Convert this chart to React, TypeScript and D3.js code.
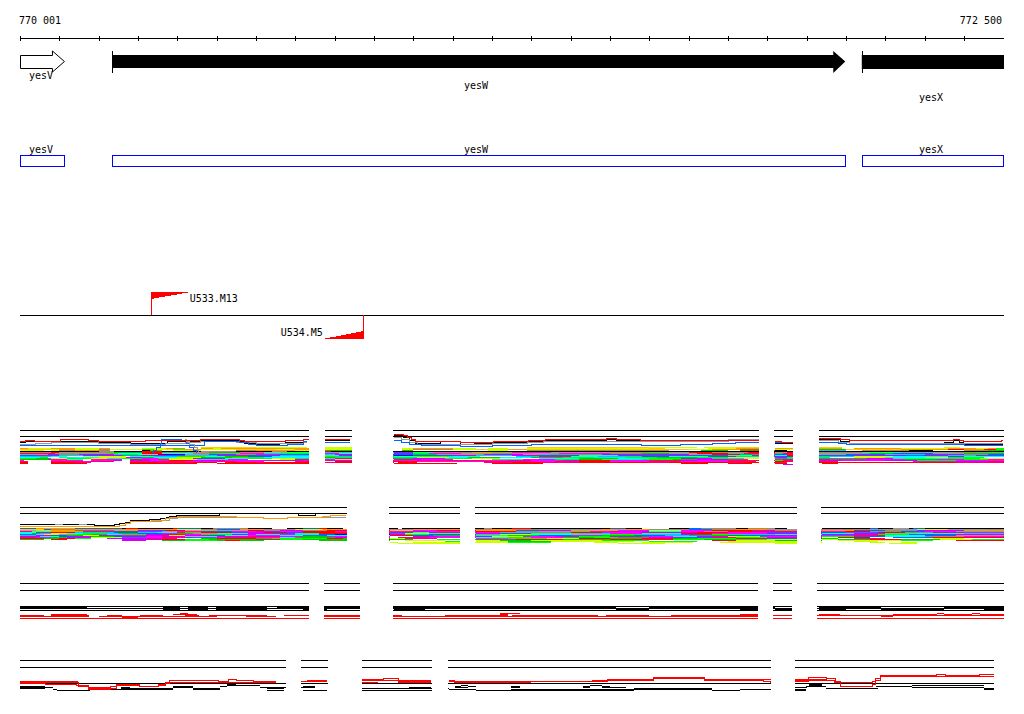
// App.tsx
// Genome browser view: ruler, genes, primers and four stacked read-alignment tracks.
import * as d3 from "d3";
import React from "react";

// ── Ruler and annotations (base pairs) ─────────────────────────────────────
const START = 770001;
const END = 772500;
const RULER_TICKS = d3.range(START, END + 1, 100);
const GENES: [string, number, number, boolean][] = [
  ["yesV", 770001, 770114, true],
  ["yesW", 770236, 772099, true],
  ["yesX", 772141, 772500, false],
];
const GENE_LABELS: [string, number][] = [
  ["yesV", 79],
  ["yesW", 89],
  ["yesX", 101],
];
const PRIMERS: [string, number, number][] = [
  ["U533.M13", 770334, 770435],
  ["U534.M5", 770874, 770771],
];

// ── Alignment tracks ───────────────────────────────────────────────────────
// Row tokens are colour letter + start position, in tens of bp from START.
// Reads are [colour, [position, depth], ...]; the last pair only ends the read.
const COLORS: Record<string, string> = {
  r: "#ff0000", k: "#000000", b: "#0000ff", a: "#0066ff", g: "#999999", o: "#ff9900",
  y: "#ccff00", u: "#ffcc00", l: "#00ff00", c: "#00ffff", m: "#ff00ff", v: "#cc00ff",
  p: "#ff0066", n: "#aa8866", e: "#00cc00", s: "#00ff99", d: "#997700", t: "#00ccff",
};

const SEGMENTS_A = [[770001, 770733], [770776, 770842], [770949, 771877], [771918, 771963], [772032, 772500]];
const SEGMENTS_B = [[770001, 770830], [770939, 771117], [771158, 771974], [772037, 772500]];
const SEGMENTS_C = [[770001, 770732], [770773, 770861], [770949, 771874], [771915, 771961], [772027, 772500]];
const SEGMENTS_D = [[770001, 770675], [770716, 770782], [770871, 771046], [771090, 771908], [771972, 772475]];

const ROWS_A: [number, string][] = [
  [0, "k0"],
  [6, "k0"],
  [17, ".0 u46 y60 .73 y77 .85 u129 y160 .172 y174 u182 .190 u203 .209 y235 .239"],
  [18, "o0 y2 o8 y14 o20 .23 y31 o37 l39 .42 o46 y49 o51 y77 .85 y97 o100 y110 .116 y119 .124 y129 u160 .164 y175 o182 .188 o192 .197 o203 .209 o212 y224 o236 y243 o246 l248"],
  [19, "u0 y8 o10 y14 n20 y23 l31 y34 o39 y46 u55 y65 o70 y77 .85 y97 n100 y110 u116 y119 o124 u129 y170 o176 d183 .190 y192 .197 e203 u210 o224 r236 o240 r245 l248"],
  [20, "y0 .6 y8 n10 o14 n20 .23 k31 l33 .36 y39 .46 n55 o60 y70 e77 .85 e97 .100 .110 y119 .124 n129 .165 e173 .180 d183 k192 .195 t203 .210 n214 k226 .232 n240 e246"],
  [21, "k0 n20 k24 r31 k36 n46 k55 n64 k68 r77 k79 k97 k129 k203"],
  [22, "n0 r8 g10 n14 e24 r31 n36 g42 e48 n56 c62 s66 t77 g80 a95 s100 n105 o115 g120 m125 g135 n150 g160 r170 n176 r185 g192 r195 n203 s214 g224 n238 g243"],
  [23, "p0 n9 g14 l22 c25 r31 c36 n44 g50 m56 g62 l68 m77 c81 v95 l100 m104 g112 n120 g130 m137 n150 e158 g165 r172 g180 p184 n192 p194 g203 e216 a222 g232 e240"],
  [24, "g0 a7 n10 v15 t24 c30 b35 g42 a48 n55 m60 a66 g77 v80 a95 e100 g106 v118 g128 n135 v148 a160 g170 r176 e183 a192 p195 g203 a210 t220 v230 n240 a246"],
  [25, "a0 v4 t10 a16 v22 e26 p31 a37 t42 v50 a58 t66 c77 a81 b95 a100 v110 t116 v125 a132 c142 a152 v160 a171 c180 v186 c192 r195 a203 v212 a225 t236 a243"],
  [26, "t0 c8 .12 y16 .27 c28 t34 l40 c47 e52 a58 c64 l77 t80 c95 s101 c110 .117 t126 v132 c140 t147 a158 c165 a175 t182 a188 a192 p196 t203 y212 c222 a236 c240"],
  [27, "c0 l5 .7 s10 c14 y20 v27 e31 c34 y40 e46 l54 c62 e77 l80 l95 y101 c109 e114 c122 e130 l138 s146 l154 e162 l172 y180 v192 l195 l203 .206 y212 c220 y230 l236 .245"],
  [28, "l0 e4 y8 l12 y18 s22 l26 m31 l35 y38 v44 c52 l58 y64 l70 s77 v80 e95 v100 l108 y115 .122 c132 e142 c152 l160 v168 l176 y184 e192 l195 e203 v215 s222 l236 y244"],
  [29, "e0 v7 m8 c12 .16 m18 .26 v28 m33 y38 s45 m53 .58 y66 v70 m77 y80 v95 m102 .110 s120 m128 l136 e142 s148 l158 e166 v172 m180 .185 m192 v194 v203 m206 e225 m233 l240 m246"],
  [30, "m0 .1 m8 .16 m18 v24 .26 p28 m33 r38 v44 m52 v62 v70 m72 p77 v79 m95 p101 m118 v124 m130 v138 r142 m150 p160 v168 m172 p180 r187 l192 p194 v203 m209 v220 l228 m238"],
  [31, "p0 .2 p8 m16 p18 .24 v28 p35 m42 p50 m55 .62 p70 r73 .77 r80 r95 m101 p118 m130 p136 r142 m150 p160 m168 p180 .187 r192 p195 p203 .208 m227 v238 p246"],
  [32, "r0 .2 r8 p14 .18 r28 p35 r44 .50 r52 p60 r62 r73 .77 p77 r80 .95 r96 .101 p118 r125 p133 r142 r150 p160 r165 r172 p180 r184 p192 .195 r203 r227 p238 p246"],
  [33, "r0 .2 r8 .17 r28 r44 .45 r50 r62 r73 .77 r95 .111 r120 .133 r168 .175 r180 .186 r192 .195 r204 .208"],
  [34, ".0 v194 .197"],
];
const READS_A: [string, ...number[][]][] = [
  ["k", [0, 12], [1.5, 11], [20, 12], [28, 13], [37.5, 11], [45.8, 10], [55.8, 11], [57, 13], [60, 14], [66, 13], [67.5, 12], [72, 11], [73, 11]],
  ["k", [77, 10], [84, 10]],
  ["k", [95, 5], [97.5, 7], [99, 10], [100.5, 13], [107, 11], [112, 14], [115.5, 13], [120.4, 12], [129.3, 11], [133.5, 10], [149.2, 9], [151.6, 10], [188, 10]],
  ["k", [192, 13], [197, 13]],
  ["k", [203, 9], [208.6, 11], [210.9, 14], [235, 12], [237.4, 10], [238.8, 12], [239.9, 14], [250, 14]],
  ["g", [0, 14], [4, 13], [8, 12], [20, 13], [28, 14], [37, 13], [42, 12], [46, 11], [55, 12], [60, 13], [72, 12], [73, 12]],
  ["g", [95, 7], [97, 9], [99, 12], [101, 14], [120, 13], [129, 12], [133, 11], [157, 11], [180, 9], [188, 9]],
  ["g", [203, 10], [208, 12], [211, 13], [250, 13]],
  ["a", [0, 15], [36, 15], [47, 11], [55.8, 12], [58, 14], [60, 15], [68, 14], [72, 11], [73, 11]],
  ["a", [77, 12], [84, 12]],
  ["a", [95, 10], [97, 12], [99, 14], [102, 15], [112, 16], [120, 15], [130, 14], [158, 15], [168, 14], [176, 13], [182, 12], [188, 12]],
  ["a", [192, 12], [197, 12]],
  ["a", [203, 12], [208, 13], [210, 14], [240, 15], [250, 15]],
  ["a", [33.5, 22], [34, 20], [34.7, 17], [35.6, 13], [36, 9], [41, 10], [42.4, 13], [43.2, 17], [44, 20], [44.8, 22]],
  ["a", [36, 10], [41, 9]],
  ["g", [42, 9], [42.4, 11], [43.2, 14], [44.4, 17], [45, 20], [45.5, 22]],
  ["r", [0, 11], [1.5, 10], [3.8, 11], [10.3, 9], [17.5, 10], [20, 11], [32, 10], [45.8, 9], [55.8, 10], [57, 11], [67.5, 10], [72, 9], [77, 9], [84, 9]],
  ["r", [95, 4], [97.5, 5], [98.5, 7], [99.5, 9], [100.5, 11], [112, 12], [120.4, 11], [129.3, 10], [133.5, 9], [149.2, 8], [151.6, 9], [157.7, 10], [188, 10]],
  ["r", [192, 11], [193.5, 12], [197, 12]],
  ["r", [203.2, 8], [208.6, 9], [210.9, 10], [237.4, 9], [238.8, 10], [239.9, 11], [249.5, 10], [250, 10]],
];

const ROWS_B: [number, string][] = [
  [0, "k0"],
  [6, "k0"],
  [21, "a0 o4 a14 k26 r27 k30 r39 a40 k46 n49 k58 .64 k68 a72 r76 k78 .82 k84 k94 .96 k97 k116 n118 k120 r125 k130 a150 k154 .158 k165 a170 n173 k182 n185 k192 .195 k204 a216 k218 g222 k226 a227 k230"],
  [22, "u0 a6 n8 o14 y40 n46 a50 o56 n62 y70 o77 n84 n94 o100 n116 o120 n125 g132 o148 n160 a170 n176 o182 g190 n204 g216 y228 g236 n246"],
  [23, "o0 u4 o8 d14 o24 a30 r37 o42 g50 r58 n62 v66 n72 r78 u94 m100 r106 o116 a126 v132 o140 m152 y160 m168 r176 v186 n192 o204 a212 n220 v228 o240"],
  [24, "v0 c3 o8 v16 a24 m30 g36 m40 a46 m54 v60 m66 r72 m80 m94 v100 m104 r116 n126 g132 m145 v150 c160 m168 n174 r180 p190 m204 r210 n216 a224 m230 g238"],
  [25, "c0 a4 r8 t14 a24 t30 c35 p40 n42 r46 v54 r62 v68 r72 p80 a94 c100 p104 m116 g122 n130 r140 m148 p158 v165 r172 m180 v190 a204 m210 r218 n225 p232 m240"],
  [26, "c0 e3 n5 y8 c12 l16 t22 e25 a30 m36 e40 g44 c50 v58 a64 s70 r76 m94 y98 c104 v116 a122 s130 t142 m150 c158 r168 m176 a190 c204 a212 s220 c228 t240"],
  [27, "a0 c4 y6 g10 l14 e18 c22 l26 v32 p36 m42 l46 v54 c60 m66 s70 a76 b80 v94 l98 a104 g116 y122 c130 s140 l150 t158 v168 l176 t184 c192 a204 v212 l218 a226 v238"],
  [28, "t0 v4 a8 e12 y16 v20 m26 v32 y38 v42 a48 c52 m58 c66 a72 c78 r94 a100 e105 s116 e124 a132 m140 e148 a156 t164 e170 a180 v190 m204 p212 c220 a230 g238"],
  [29, "v0 c5 a10 v14 e18 a24 m32 p36 c42 v50 p58 m66 e72 m78 .94 v100 m106 v116 y120 m128 v136 l142 v150 m158 c166 v172 y180 m188 l204 a212 c220 n230 m240"],
  [30, "p0 m4 e8 v12 y18 m26 v36 m44 p52 m60 c66 e70 v80 .94 p96 m104 c116 l124 m130 e138 l146 e152 v160 a168 p176 l182 v190 .204 r208 .216 a222 r232"],
  [31, "r0 e6 r10 l14 .18 v22 p32 .40 e46 r50 e60 l64 r78 e82 y94 p98 .106 e116 l124 y134 r142 e150 r158 e166 l172 p182 a190 e204 .208 p212 .220 y232 .240"],
  [32, "e0 .6 r8 .12 .20 v26 r36 l42 e48 p60 l66 e72 r84 e94 .100 l106 m116 r126 e138 r150 p158 l166 e174 l182 y190 y204 e208 r216 e224 y234 l242"],
  [33, ".0 v26 .32 e36 l42 e50 r52 e56 .62 e76 .94 y98 .108 y116 e122 y130 l148 .160 r176 y182 e192 .204 y208 l224 .232 r238"],
  [34, ".0 l108 .112 y116 e124 y135 y146 .156 l160 .172 y180 .204 y212 .218"],
  [35, ".0 y94 .96 y100 l124 .135 y146 .152 y158 .171 y178 .204 y216 .220 y224 .228"],
  [36, ".0 y96 .112 y152 .164 y192 .198 y221 .228"],
];
const READS_B: [string, ...number[][]][] = [
  ["k", [0, 17], [19, 18], [24, 17], [25.4, 16], [26.7, 15], [28, 13], [33, 12], [35.6, 11], [37.3, 10], [38, 9], [39.8, 8], [50.8, 6], [70.7, 8], [75, 6], [83, 6]],
  ["g", [33.5, 14], [36, 13], [38, 11], [40, 10], [62, 11], [68, 10], [77, 10], [83, 10]],
  ["o", [0, 19], [25.4, 18], [26.7, 16], [28, 14], [33.5, 13], [37, 11], [38, 10], [40, 9], [55, 10], [62, 11], [68, 10], [77, 9], [79, 8], [83, 8]],
  ["g", [9, 17], [11, 17]],
  ["g", [15, 17], [17, 17]],
];

const ROWS_C: [number, string][] = [
  [0, "k0"],
  [7, "k0"],
  [23, "k0"],
  [24, "k0 .17 k36.4 .40.7 k42.8 .47.9 k49.8 .62.7 k65.3 k95 .151.4 k160 .192 k203 .219 k235"],
  [25, "k0"],
  [26, ".0 k36.4 .40.7 k42.8 .47.9 k49.8 .62.7 k72 k77 .78 k95 .103 k151.4 .160 k183 .188 k192 .197 k203 .210 k219 .235 k245"],
  [27, "k0"],
  [30, ".0 r40.7 .42.8 r122 .127 r233 .235 r242 .244"],
  [31, ".0 r8 .17 r39 .45 r122 .124 r183 .188 r203 .208.5 r222 .233 r235 .242 r244"],
  [32, "r0 .6 r8 .17.5 r22 .26 r30.5 .36.4 r42 .45.5 r48 .62.7 r67 r77 r95 .97 r108 .124 r125 .147 r149 .160 r165.5 .183 r183 r203 r232"],
  [33, "r0 .6 r6 .17.5 r20 .26 r26 r45.5 r49.8 .50 r57.5 .65 r77 r95 r125 r147 r149 r160 .183 r183 .188 r219 .222"],
  [34, ".0 r26 .30"],
  [35, "r0"],
];
const READS_C: [string, ...number[][]][] = [];

const ROWS_D: [number, string][] = [
  [0, "k0"],
  [7, "k0"],
  [23, "k0"],
  [24, ".0 k52.5 .55 k200.5 .204"],
  [25, ".0 k52.5 .61 k112 .114 k145 .148 k200.5 .204 k226.8 .245"],
  [26, "k0 .6.4 k39 .44 k50.8 .52.5 k72 .75 k110.5 .112 k114 .116 k124.7 .127 k143 .145 k148 .150 k199.7 .205 k217.5 .226.8"],
  [27, "k0 .8.5 k25.8 .28 k39 .44 k61 k67 .72 k72 .75 k99 .104.6 k110.5 .114 k124.7 .127 k143 .145 k148 .154 k197 .200 k226.8 .245"],
  [28, "k0 .6.4 k25.8 .39 k44 .50.8 k62.7 .67 k87 k105 .109 k156 .176 k205 .218 k245"],
  [29, "k8.5 .9.3 k17.8 .39 k44 .50.8 k109 .116 k124.7 .176 k183 .190.8 k197 .199.7 k245"],
  [30, "k9.3 .17.8 k62.7 .67 k72 .78 k87 .105 k116 .124.7 k124.7 .156 k176 .183 k197 .199.7"],
];
const READS_D: [string, ...number[][]][] = [
  ["r", [0, 22], [14.8, 26], [17.4, 27], [22.9, 26], [24.6, 24], [30.5, 26], [35.2, 24], [36.9, 22], [38.1, 20], [50.4, 21], [53, 19], [55, 20], [59.3, 21], [65, 21]],
  ["r", [0, 23], [6.4, 24], [14.4, 25], [17.4, 29], [22.9, 28], [24.6, 25], [30.5, 26], [35.2, 25], [36.9, 23], [38.1, 22], [59.3, 22], [65, 22]],
  ["r", [0, 21], [14.8, 21]],
  ["r", [17.4, 28], [22.9, 28]],
  ["r", [71.5, 21], [73, 20], [78, 20]],
  ["r", [71.5, 21], [78, 21]],
  ["r", [87, 19], [92.5, 18], [96.3, 20], [104.6, 20]],
  ["r", [87, 20], [92.5, 20], [96.3, 21], [104.6, 21]],
  ["r", [87, 22], [91, 22]],
  ["r", [96, 22], [104.6, 22]],
  ["r", [109, 20], [110.5, 21], [145.5, 20], [149.3, 19], [161, 17], [173.9, 19], [190.8, 19]],
  ["r", [109, 21], [110.5, 22], [129.8, 21], [145.5, 21], [149.3, 20], [161, 18], [173.9, 20], [189, 21], [190.8, 22]],
  ["r", [197, 19], [200.5, 17], [205, 18], [207.3, 22], [216.6, 21], [217.5, 18], [218.7, 16], [247.8, 16]],
  ["r", [197, 21], [200.5, 19], [205, 20], [207.3, 21], [208.6, 26], [216.6, 24], [217.5, 20], [218.7, 15], [233, 14], [235.3, 15], [244, 14], [247.8, 14]],
  ["r", [197, 20], [200.5, 20], [207, 22], [216.6, 22]],
];

// ── Scales ─────────────────────────────────────────────────────────────────
const x = d3.scaleLinear().domain([START, END]).range([20, 1003]);
const xUnit = (u: number) => x(START + u * 10);
const line = d3
  .line<number[]>()
  .x((d) => xUnit(d[0]))
  .curve(d3.curveStepAfter);

const MONO = "'DejaVu Sans Mono', monospace";

function Track({ id, top, segments, rows, reads }: {
  id: string;
  top: number;
  segments: number[][];
  rows: [number, string][];
  reads: [string, ...number[][]][];
}) {
  const y = d3.scaleLinear().domain([0, 40]).range([top + 0.5, top + 40.5]);
  const path = line.y((d) => y(d[1]));
  return (
    <g>
      <clipPath id={id}>
        {segments.map(([a, b]) => (
          <rect key={a} x={Math.round(x(a))} y={top - 5} width={Math.round(x(b) - x(a)) + 1} height={50} />
        ))}
      </clipPath>
      <g clipPath={`url(#${id})`} shapeRendering="crispEdges" fill="none" strokeWidth={1}>
        {/* stacked rows first, the traced reads sit on top */}
        {rows.map(([level, spec]) => {
          const runs = Array.from(spec.matchAll(/([a-z.])(\d+(?:\.\d+)?)/g)).map((m) => ({ c: m[1], u: +m[2] }));
          return runs.map((run, i) =>
            run.c === "." ? null : (
              <line
                key={`${level}-${i}`}
                x1={xUnit(run.u)}
                x2={xUnit(i + 1 < runs.length ? runs[i + 1].u : 251)}
                y1={y(level)}
                y2={y(level)}
                stroke={COLORS[run.c]}
              />
            )
          );
        })}
        {reads.map(([c, ...pts], i) => (
          <path key={i} d={path(pts) ?? ""} stroke={COLORS[c]} />
        ))}
      </g>
    </g>
  );
}

export default function App() {
  return (
    <svg
      width={1024}
      height={714}
      viewBox="0 0 1024 714"
      style={{ position: "absolute", left: 0, top: 0, background: "#fff" }}
      fontFamily={MONO}
      fontSize={10}
    >
      {/* Ruler */}
      <text x={19} y={24}>770 001</text>
      <text x={1002} y={24} textAnchor="end">772 500</text>
      <g stroke="#000" shapeRendering="crispEdges">
        <line x1={x(START)} x2={x(END) + 1} y1={38.5} y2={38.5} />
        {RULER_TICKS.map((t) => (
          <line key={t} x1={x(t) + 0.5} x2={x(t) + 0.5} y1={36} y2={41} />
        ))}
      </g>

      {/* Gene arrows */}
      {GENES.map(([name, a, b, head], i) => {
        const x0 = x(a);
        const x1 = x(b);
        const hx = x1 - 12;
        if (i === 0) {
          return (
            <polygon
              key={name}
              points={`${x0 + 0.5},55.5 ${hx},55.5 ${hx},51 ${x1},61.5 ${hx},72 ${hx},68.5 ${x0 + 0.5},68.5`}
              fill="#fff"
              stroke="#000"
            />
          );
        }
        return (
          <g key={name}>
            <line x1={x0 + 0.5} x2={x0 + 0.5} y1={51} y2={73} stroke="#000" shapeRendering="crispEdges" />
            <polygon
              points={
                head
                  ? `${x0},55 ${hx},55 ${hx},51 ${x1},61.5 ${hx},73 ${hx},68 ${x0},68`
                  : `${x0},55 ${x1 + 1},55 ${x1 + 1},69 ${x0},69`
              }
              fill="#000"
            />
          </g>
        );
      })}
      {GENES.map(([name], i) => (
        <text key={name} x={[41, 476, 931][i]} y={GENE_LABELS[i][1]} textAnchor="middle">{name}</text>
      ))}

      {/* Feature boxes */}
      {GENES.map(([name, a, b], i) => (
        <g key={name}>
          <rect x={x(a) + 0.5} y={155.5} width={x(b) - x(a)} height={11} fill="none" stroke="#0000ff" shapeRendering="crispEdges" />
          <text x={[41, 476, 931][i]} y={153} textAnchor="middle">{name}</text>
        </g>
      ))}

      {/* Primers */}
      <line x1={x(START)} x2={x(END) + 1} y1={315.5} y2={315.5} stroke="#000" shapeRendering="crispEdges" />
      {PRIMERS.map(([name, a, b]) => {
        const forward = b > a;
        const tipY = forward ? 292 : 339;
        const inner = forward ? 299 : 331;
        return (
          <g key={name}>
            <line x1={x(a) + 0.5} x2={x(a) + 0.5} y1={315} y2={tipY} stroke="#ff0000" shapeRendering="crispEdges" />
            <polygon points={`${x(a)},${tipY} ${x(b)},${tipY} ${x(a)},${inner}`} fill="#ff0000" shapeRendering="crispEdges" />
            <text x={forward ? x(b) - 1 : x(b)} y={forward ? 302 : 336} textAnchor={forward ? "start" : "end"}>{name}</text>
          </g>
        );
      })}

      {/* Alignment tracks */}
      <Track id="track-a" top={430} segments={SEGMENTS_A} rows={ROWS_A} reads={READS_A} />
      <Track id="track-b" top={507} segments={SEGMENTS_B} rows={ROWS_B} reads={READS_B} />
      <Track id="track-c" top={583} segments={SEGMENTS_C} rows={ROWS_C} reads={READS_C} />
      <Track id="track-d" top={660} segments={SEGMENTS_D} rows={ROWS_D} reads={READS_D} />
    </svg>
  );
}
